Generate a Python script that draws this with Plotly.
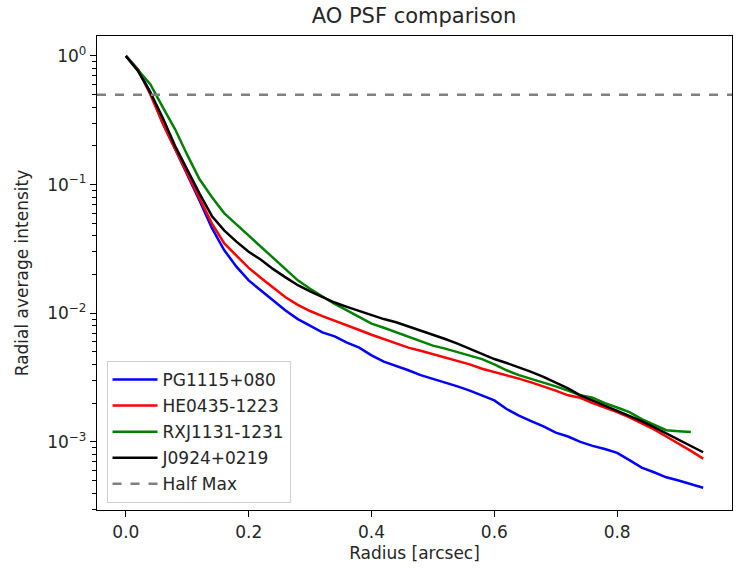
import plotly.graph_objects as go

radius = [0.00, 0.02, 0.04, 0.06, 0.08, 0.10, 0.12, 0.14, 0.16, 0.18,
          0.20, 0.22, 0.24, 0.26, 0.28, 0.30, 0.32, 0.34, 0.36, 0.38,
          0.40, 0.42, 0.44, 0.46, 0.48, 0.50, 0.52, 0.54, 0.56, 0.58,
          0.60, 0.62, 0.64, 0.66, 0.68, 0.70, 0.72, 0.74, 0.76, 0.78,
          0.80, 0.82, 0.84, 0.86, 0.88, 0.90, 0.92, 0.94]

pg1115 = [1.0, 0.78, 0.52, 0.30, 0.19, 0.12, 0.075, 0.046, 0.031, 0.023,
          0.018, 0.015, 0.0125, 0.0105, 0.0090, 0.0080, 0.0071, 0.0066, 0.0059, 0.0054,
          0.0047, 0.0042, 0.0039, 0.0036, 0.0033, 0.0031, 0.0029, 0.0027, 0.0025, 0.0023,
          0.0021, 0.0018, 0.0016, 0.00145, 0.00132, 0.00118, 0.00110, 0.00100, 0.00093, 0.00088,
          0.00082, 0.00072, 0.00063, 0.00058, 0.00053, 0.00050, 0.00047, 0.00044]

he0435 = [1.0, 0.78, 0.50, 0.30, 0.19, 0.12, 0.078, 0.050, 0.035, 0.028,
          0.0225, 0.0188, 0.0158, 0.0133, 0.0116, 0.0104, 0.0095, 0.0087, 0.0080, 0.0074,
          0.0068, 0.0063, 0.0058, 0.0054, 0.0051, 0.0048, 0.0045, 0.0042, 0.0040, 0.0037,
          0.0035, 0.0033, 0.0031, 0.0029, 0.0027, 0.0025, 0.0023, 0.0022, 0.0020, 0.00185,
          0.0017, 0.00155, 0.00140, 0.00125, 0.00110, 0.00097, 0.00085, 0.00074]

rxj1131 = [1.0, 0.78, 0.60, 0.40, 0.27, 0.17, 0.11, 0.080, 0.060, 0.049,
           0.040, 0.0328, 0.0268, 0.022, 0.018, 0.0155, 0.0135, 0.0118, 0.0105, 0.0094,
           0.0083, 0.0077, 0.0071, 0.0066, 0.0060, 0.0056, 0.0053, 0.0050, 0.0047, 0.0044,
           0.0040, 0.0036, 0.0033, 0.0031, 0.0029, 0.0027, 0.0025, 0.0023, 0.0022, 0.0020,
           0.00185, 0.00170, 0.00150, 0.00135, 0.00123, 0.00121, 0.00119]

j0924 = [1.0, 0.76, 0.52, 0.33, 0.20, 0.13, 0.085, 0.057, 0.044, 0.036,
         0.030, 0.026, 0.022, 0.019, 0.0165, 0.0148, 0.0133, 0.0121, 0.0112, 0.0104,
         0.0096, 0.0090, 0.0085, 0.0079, 0.0073, 0.0068, 0.0063, 0.0058, 0.0053, 0.0048,
         0.0044, 0.0041, 0.0038, 0.0035, 0.0032, 0.0029, 0.0026, 0.0023, 0.0021, 0.0019,
         0.00175, 0.00160, 0.00145, 0.00130, 0.00116, 0.00104, 0.00093, 0.00083]

half_max = 0.5
x_range = [-0.047, 0.987]
y_log_range = [-3.53, 0.155]

series = [
    ("PG1115+080", pg1115, "#0000ff"),
    ("HE0435-1223", he0435, "#ff0000"),
    ("RXJ1131-1231", rxj1131, "#008000"),
    ("J0924+0219", j0924, "#000000"),
]

fig = go.Figure()
for name, vals, color in series:
    fig.add_trace(go.Scatter(x=radius[:len(vals)], y=vals, mode="lines", name=name,
                             legendgroup=name, line=dict(color=color, width=2.5)))

fig.add_trace(go.Scatter(x=x_range, y=[half_max, half_max], mode="lines", name="Half Max",
                         legendgroup="half", line=dict(color="#808080", width=2.5, dash="dash")))

major_vals = [1e-3, 1e-2, 1e-1, 1]
major_text = ["10<sup>−3</sup>", "10<sup>−2</sup>", "10<sup>−1</sup>", "10<sup>0</sup>"]
minor_vals = []
for dec in [1e-4, 1e-3, 1e-2, 1e-1, 1]:
    for m in range(2, 10):
        v = m * dec
        if 10 ** y_log_range[0] <= v <= 10 ** y_log_range[1]:
            minor_vals.append(v)

font_family = "DejaVu Sans"
txt = "#262626"
fig.update_layout(
    width=744, height=569,
    margin=dict(l=97, r=12, t=36, b=59, autoexpand=False),
    paper_bgcolor="white", plot_bgcolor="white",
    font=dict(family=font_family, size=17, color=txt),
    title=dict(text="AO PSF comparison", x=414 / 744, xanchor="center",
               y=1 - 16 / 569, yanchor="middle", yref="container",
               font=dict(size=21, color=txt)),
    showlegend=True,
    legend=dict(x=0.015, y=0.015, xanchor="left", yanchor="bottom",
                bgcolor="rgba(255,255,255,0.85)", bordercolor="#d0d0d0", borderwidth=1,
                font=dict(size=17, color=txt), tracegroupgap=1, itemwidth=45),
    xaxis=dict(range=x_range, showgrid=False, zeroline=False,
               showline=True, linecolor="black", linewidth=1.3, mirror=True,
               ticks="outside", ticklen=6, tickwidth=1.3, tickcolor="black",
               tickvals=[0.0, 0.2, 0.4, 0.6, 0.8], ticktext=["0.0", "0.2", "0.4", "0.6", "0.8"],
               tickfont=dict(size=17),
               title=dict(text="Radius [arcsec]", standoff=6, font=dict(size=17))),
    yaxis=dict(type="log", range=y_log_range, showgrid=False, zeroline=False,
               showline=True, linecolor="black", linewidth=1.3, mirror=True,
               ticks="outside", ticklen=6, tickwidth=1.3, tickcolor="black",
               tickvals=major_vals, ticktext=major_text, tickfont=dict(size=17),
               minor=dict(tickvals=minor_vals, ticks="outside", ticklen=3.5, tickwidth=1,
                          tickcolor="black", showgrid=False),
               title=dict(text="Radial average intensity", standoff=14, font=dict(size=17))),
)

fig.write_html("out.html", config={"displayModeBar": False},
               post_script="document.body.style.margin='0px';document.body.style.overflow='hidden';")
